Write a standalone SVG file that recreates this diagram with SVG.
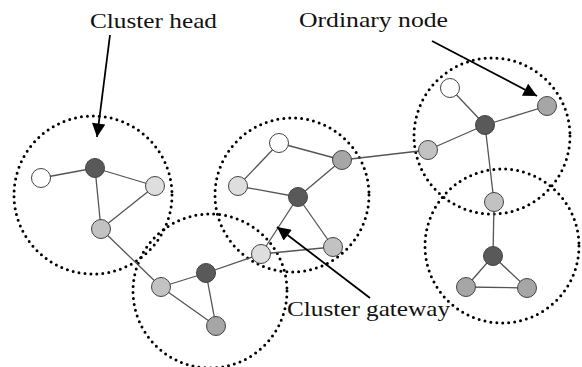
<svg xmlns="http://www.w3.org/2000/svg" width="582" height="367" viewBox="0 0 582 367">
<style>
.cl{fill:none;stroke:#000;stroke-width:3;stroke-dasharray:0 6;stroke-linecap:round}
.e{stroke:#555;stroke-width:1.3;fill:none}
.n{stroke:#444;stroke-width:1}
.dk{fill:#595959}.g{fill:#a6a6a6}.m{fill:#c2c2c2}.l{fill:#dedede}.w{fill:#fff}
.ar{stroke:#000;stroke-width:1.8;fill:none}
.t{font-family:"Liberation Serif","Times New Roman",serif;font-size:21.5px;fill:#111}
</style>
<defs>
<marker id="ah" viewBox="0 0 10 10" refX="10" refY="5" markerWidth="8.5" markerHeight="7.5" markerUnits="strokeWidth" orient="auto">
<path d="M0,0 L10,5 L0,10 z" fill="#000"/>
</marker>
</defs>
<g id="clusters">
<circle class="cl" cx="93" cy="195" r="79"/>
<circle class="cl" cx="210" cy="291" r="77"/>
<circle class="cl" cx="292" cy="195" r="77"/>
<circle class="cl" cx="492" cy="136" r="78"/>
<circle class="cl" cx="502" cy="246" r="77"/>
</g>
<g id="connectors">
<line class="e" x1="95" y1="168" x2="41" y2="178"/>
<line class="e" x1="95" y1="168" x2="155" y2="186"/>
<line class="e" x1="95" y1="168" x2="101" y2="229"/>
<line class="e" x1="155" y1="186" x2="101" y2="229"/>
<line class="e" x1="101" y1="229" x2="161" y2="287"/>
<line class="e" x1="161" y1="287" x2="206" y2="273"/>
<line class="e" x1="161" y1="287" x2="216" y2="326"/>
<line class="e" x1="206" y1="273" x2="216" y2="326"/>
<line class="e" x1="206" y1="273" x2="261" y2="254"/>
<line class="e" x1="279" y1="143" x2="238" y2="186"/>
<line class="e" x1="279" y1="143" x2="342" y2="160"/>
<line class="e" x1="238" y1="186" x2="298" y2="197"/>
<line class="e" x1="298" y1="197" x2="342" y2="160"/>
<line class="e" x1="298" y1="197" x2="261" y2="254"/>
<line class="e" x1="298" y1="197" x2="333" y2="247"/>
<line class="e" x1="261" y1="254" x2="333" y2="247"/>
<line class="e" x1="342" y1="160" x2="428" y2="150"/>
<line class="e" x1="450" y1="88" x2="485" y2="125"/>
<line class="e" x1="485" y1="125" x2="547" y2="106"/>
<line class="e" x1="485" y1="125" x2="428" y2="150"/>
<line class="e" x1="485" y1="125" x2="494" y2="202"/>
<line class="e" x1="494" y1="202" x2="493" y2="256"/>
<line class="e" x1="493" y1="256" x2="466" y2="287"/>
<line class="e" x1="493" y1="256" x2="527" y2="288"/>
<line class="e" x1="466" y1="287" x2="527" y2="288"/>
</g>
<g id="node-c1-head"><circle class="n dk" cx="95" cy="168" r="9.5"/></g>
<g id="node-c1-a"><circle class="n w" cx="41" cy="178" r="9.5"/></g>
<g id="node-c1-b"><circle class="n l" cx="155" cy="186" r="9.5"/></g>
<g id="node-c1-c"><circle class="n m" cx="101" cy="229" r="9.5"/></g>
<g id="node-c2-a"><circle class="n m" cx="161" cy="287" r="9.5"/></g>
<g id="node-c2-head"><circle class="n dk" cx="206" cy="273" r="9.5"/></g>
<g id="node-c2-b"><circle class="n g" cx="216" cy="326" r="9.5"/></g>
<g id="node-gateway"><circle class="n l" cx="261" cy="254" r="9.5"/></g>
<g id="node-c3-a"><circle class="n w" cx="279" cy="143" r="9.5"/></g>
<g id="node-c3-b"><circle class="n g" cx="342" cy="160" r="9.5"/></g>
<g id="node-c3-c"><circle class="n l" cx="238" cy="186" r="9.5"/></g>
<g id="node-c3-head"><circle class="n dk" cx="298" cy="197" r="9.5"/></g>
<g id="node-c3-d"><circle class="n m" cx="333" cy="247" r="9.5"/></g>
<g id="node-c4-a"><circle class="n w" cx="450" cy="88" r="9.5"/></g>
<g id="node-c4-b"><circle class="n g" cx="547" cy="106" r="9.5"/></g>
<g id="node-c4-head"><circle class="n dk" cx="485" cy="125" r="9.5"/></g>
<g id="node-c4-c"><circle class="n m" cx="428" cy="150" r="9.5"/></g>
<g id="node-c45"><circle class="n m" cx="494" cy="202" r="9.5"/></g>
<g id="node-c5-head"><circle class="n dk" cx="493" cy="256" r="9.5"/></g>
<g id="node-c5-a"><circle class="n g" cx="466" cy="287" r="9.5"/></g>
<g id="node-c5-b"><circle class="n g" cx="527" cy="288" r="9.5"/></g>
<g id="labels">
<line class="ar" x1="110" y1="35" x2="97" y2="137" marker-end="url(#ah)"/>
<line class="ar" x1="432" y1="41" x2="537" y2="96" marker-end="url(#ah)"/>
<line class="ar" x1="370" y1="298" x2="277" y2="227" marker-end="url(#ah)"/>
<text class="t" x="90" y="28" textLength="127" lengthAdjust="spacingAndGlyphs">Cluster head</text>
<text class="t" x="299" y="27" textLength="149" lengthAdjust="spacingAndGlyphs">Ordinary node</text>
<text class="t" x="287" y="316" textLength="163" lengthAdjust="spacingAndGlyphs">Cluster gateway</text>
</g>
</svg>
